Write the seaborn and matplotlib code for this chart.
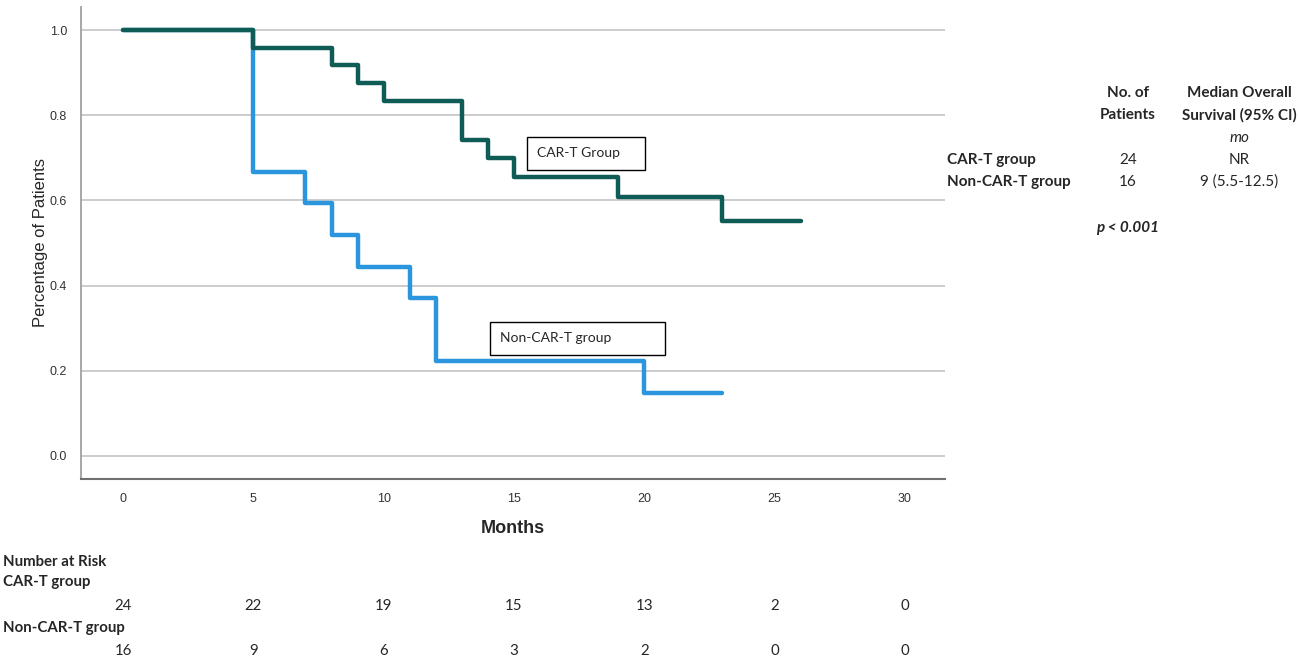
import pandas as pd
import matplotlib
matplotlib.use("Agg")
import matplotlib.pyplot as plt
import matplotlib.transforms as mtransforms
from matplotlib.patches import Rectangle
import seaborn as sns

# Kaplan-Meier steps
cart_months = [0, 5, 8, 9, 10, 13, 14, 15, 19, 23, 26]
cart_surv = [1.0, 0.958, 0.917, 0.875, 0.833, 0.742, 0.700, 0.656, 0.607, 0.552, 0.552]
noncart_months = [0, 5, 7, 8, 9, 11, 12, 20, 23]
noncart_surv = [1.0, 0.667, 0.593, 0.519, 0.444, 0.370, 0.222, 0.148, 0.148]

# number at risk table
risk_months = [0, 5, 10, 15, 20, 25, 30]
risk_cart = [24, 22, 19, 15, 13, 2, 0]
risk_noncart = [16, 9, 6, 3, 2, 0, 0]

groups = ["CAR-T group", "Non-CAR-T group"]
n_patients = [24, 16]
median_os = ["NR", "9 (5.5-12.5)"]

dados = pd.concat([
    pd.DataFrame({"Months": noncart_months, "Surv": noncart_surv, "Grupo": "Non-CAR-T"}),
    pd.DataFrame({"Months": cart_months, "Surv": cart_surv, "Grupo": "CAR-T"}),
])

sns.set_style("white")
plt.rcParams["font.family"] = ["Liberation Sans", "DejaVu Sans"]
fonte_tab = ["Lato", "DejaVu Sans"]
tam_tab = 11
tam_risco = 10.8

fig = plt.figure(figsize=(12.99, 6.67), dpi=100)
ax = fig.add_axes([0.0624, 0.2819, 0.6651, 0.7076])

sns.lineplot(data=dados, x="Months", y="Surv", hue="Grupo",
             palette={"Non-CAR-T": "#2b95dd", "CAR-T": "#0f5b55"},
             hue_order=["Non-CAR-T", "CAR-T"], estimator=None, sort=False,
             drawstyle="steps-post", linewidth=3.2, legend=False, ax=ax)

ax.set_xlim(-1.61, 31.54)
ax.set_ylim(-0.054, 1.054)
ax.set_xticks([0, 5, 10, 15, 20, 25, 30])
ax.set_yticks([0.0, 0.2, 0.4, 0.6, 0.8, 1.0])
ax.set_yticklabels(["0.0", "0.2", "0.4", "0.6", "0.8", "1.0"])
ax.yaxis.grid(True, color="#c8c8c8", linewidth=1.3)
ax.set_axisbelow(True)
ax.tick_params(axis="both", length=0, labelsize=9, colors="#333333", pad=10)
for lado in ["top", "right"]:
    ax.spines[lado].set_visible(False)
ax.spines["left"].set_color("#a0a0a0")
ax.spines["left"].set_linewidth(1.3)
ax.spines["bottom"].set_color("#707070")
ax.spines["bottom"].set_linewidth(1.5)

ax.set_xlabel("Months", fontsize=13, fontweight="bold", labelpad=11)
ax.set_ylabel("Percentage of Patients", fontsize=12, labelpad=1)

# caixas com os nomes dos grupos
ax.add_patch(Rectangle((15.50, 0.671), 4.53, 0.078, fill=False, edgecolor="black", linewidth=1))
ax.text(15.9, 0.712, "CAR-T Group", fontsize=10, family=fonte_tab, va="center", ha="left")
ax.add_patch(Rectangle((14.08, 0.237), 6.72, 0.078, fill=False, edgecolor="black", linewidth=1))
ax.text(14.47, 0.278, "Non-CAR-T group", fontsize=10, family=fonte_tab, va="center", ha="left")

# tabela da direita
fig.text(1128 / 1299, 1 - 93 / 667, "No. of", ha="center", va="center", fontsize=tam_tab, fontweight="bold", family=fonte_tab)
fig.text(1128 / 1299, 1 - 115 / 667, "Patients", ha="center", va="center", fontsize=tam_tab, fontweight="bold", family=fonte_tab)
fig.text(1239 / 1299, 1 - 93 / 667, "Median Overall", ha="center", va="center", fontsize=tam_tab, fontweight="bold", family=fonte_tab)
fig.text(1239 / 1299, 1 - 115 / 667, "Survival (95% CI)", ha="center", va="center", fontsize=tam_tab, fontweight="bold", family=fonte_tab)
fig.text(1239 / 1299, 1 - 138 / 667, "mo", ha="center", va="center", fontsize=tam_tab, style="italic", family=fonte_tab)
for i, g in enumerate(groups):
    yy = 1 - (160 + 22 * i) / 667
    fig.text(947 / 1299, yy, g, ha="left", va="center", fontsize=tam_tab, fontweight="bold", family=fonte_tab)
    fig.text(1128 / 1299, yy, str(n_patients[i]), ha="center", va="center", fontsize=tam_tab, family=fonte_tab)
    fig.text(1239 / 1299, yy, median_os[i], ha="center", va="center", fontsize=tam_tab, family=fonte_tab)
fig.text(1128 / 1299, 1 - 228 / 667, "p < 0.001", ha="center", va="center", fontsize=tam_tab,
         fontweight="bold", style="italic", family=fonte_tab)

# numero em risco
trans = mtransforms.blended_transform_factory(ax.transData, fig.transFigure)
fig.text(3 / 1299, 1 - 562 / 667, "Number at Risk", ha="left", va="center", fontsize=tam_risco, fontweight="bold", family=fonte_tab)
fig.text(3 / 1299, 1 - 582 / 667, "CAR-T group", ha="left", va="center", fontsize=tam_risco, fontweight="bold", family=fonte_tab)
fig.text(3 / 1299, 1 - 628 / 667, "Non-CAR-T group", ha="left", va="center", fontsize=tam_risco, fontweight="bold", family=fonte_tab)
for m, a, b in zip(risk_months, risk_cart, risk_noncart):
    ax.text(m, 1 - 606 / 667, str(a), transform=trans, ha="center", va="center", fontsize=tam_risco, family=fonte_tab, clip_on=False)
    ax.text(m, 1 - 651 / 667, str(b), transform=trans, ha="center", va="center", fontsize=tam_risco, family=fonte_tab, clip_on=False)

fig.savefig("out.png", dpi=100)
plt.close(fig)
